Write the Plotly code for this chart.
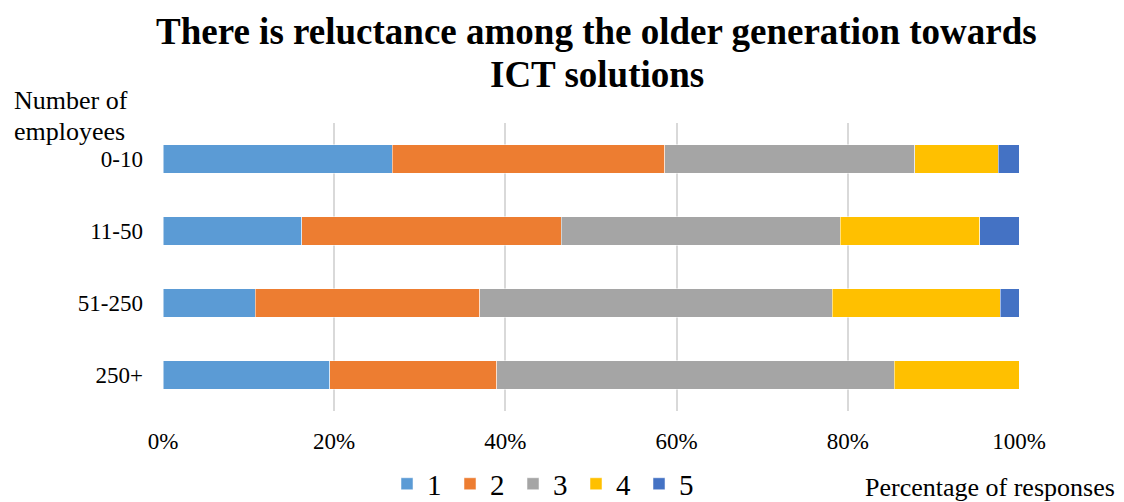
import plotly.graph_objects as go

categories = ["0-10", "11-50", "51-250", "250+"]
series_names = ["1", "2", "3", "4", "5"]
s1 = [26.8, 16.2, 10.8, 19.5]
s2 = [31.8, 30.3, 26.2, 19.5]
s3 = [29.2, 32.6, 41.2, 46.4]
s4 = [9.8, 16.3, 19.6, 14.6]
s5 = [2.4, 4.6, 2.2, 0.0]
colors = ["#5B9BD5", "#ED7D31", "#A5A5A5", "#FFC000", "#4472C4"]
x_ticks = [0, 20, 40, 60, 80, 100]
x_tick_labels = ["0%", "20%", "40%", "60%", "80%", "100%"]
title_lines = ["There is reluctance among the older generation towards", "ICT solutions"]
y_title_lines = ["Number of", "employees"]
x_title = "Percentage of responses"

FONT = "Times New Roman, Liberation Serif, serif"

fig = go.Figure()
for name, vals, col in zip(series_names, [s1, s2, s3, s4, s5], colors):
    fig.add_trace(go.Bar(
        y=categories, x=vals, name=name, orientation="h",
        marker=dict(color=col, line=dict(width=0.5, color="white")),
    ))

annotations = [
    dict(text=f"<b>{title_lines[0]}</b>", xref="paper", yref="paper",
         x=0.507, y=1.319, xanchor="center", yanchor="middle", showarrow=False,
         font=dict(family=FONT, size=37, color="black")),
    dict(text=f"<b>{title_lines[1]}</b>", xref="paper", yref="paper",
         x=0.507, y=1.1667, xanchor="center", yanchor="middle", showarrow=False,
         font=dict(family=FONT, size=37, color="black")),
    dict(text=y_title_lines[0], xref="paper", yref="paper",
         x=-0.1764, y=1.0764, xanchor="left", yanchor="middle", showarrow=False,
         font=dict(family=FONT, size=26, color="black")),
    dict(text=y_title_lines[1], xref="paper", yref="paper",
         x=-0.1764, y=0.972, xanchor="left", yanchor="middle", showarrow=False,
         font=dict(family=FONT, size=26, color="black")),
    dict(text=x_title, xref="paper", yref="paper",
         x=1.1145, y=-0.267, xanchor="right", yanchor="middle", showarrow=False,
         font=dict(family=FONT, size=26, color="black")),
]

fig.update_layout(
    barmode="stack",
    bargap=0.6,
    width=1124, height=502,
    margin=dict(l=155, r=113, t=115, b=99, autoexpand=False),
    paper_bgcolor="white", plot_bgcolor="white",
    font=dict(family=FONT, color="black", size=23),
    legend=dict(
        orientation="h", xref="paper", x=0.2617, xanchor="left",
        yref="container", y=0.052, yanchor="middle",
        font=dict(family=FONT, size=29, color="black"),
        itemwidth=30, entrywidth=18, entrywidthmode="pixels",
        traceorder="normal", bgcolor="rgba(0,0,0,0)",
    ),
    xaxis=dict(
        range=[0, 100], tickvals=x_ticks, ticktext=x_tick_labels,
        showgrid=True, gridcolor="#D9D9D9", gridwidth=2,
        zeroline=False, showline=False, ticks="", automargin=False,
        tickfont=dict(family=FONT, size=23), ticklabelstandoff=14,
    ),
    yaxis=dict(
        categoryorder="array", categoryarray=categories, autorange="reversed",
        showgrid=False, zeroline=False, showline=False, ticks="", automargin=False,
        tickfont=dict(family=FONT, size=23), ticklabelstandoff=19,
    ),
    annotations=annotations,
)

fig.write_html("out.html")
